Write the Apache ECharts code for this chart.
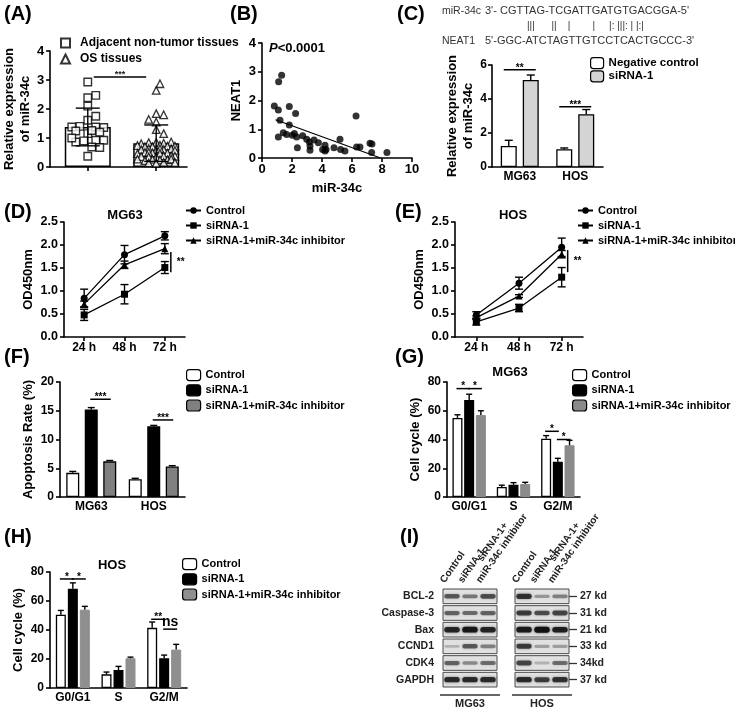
<!DOCTYPE html>
<html><head><meta charset="utf-8">
<script src="https://cdn.jsdelivr.net/npm/echarts@6/dist/echarts.min.js"></script>
<style>
html,body{margin:0;padding:0;background:#fff;}
#wrap{position:relative;width:735px;height:712px;background:#fff;overflow:hidden;}
.pane{position:absolute;left:0;top:0;width:735px;height:712px;}
</style></head><body><div id="wrap"></div>
<script>
// ================= DATA =================
// (A) relative expression of miR-34c
const adjacentVals = [2.93,2.39,2.47,2.1,1.61,1.75,1.38,1.4,1.36,1.38,1.15,1.24,1.26,1.2,0.92,0.9,0.86,0.92,1.0,0.69,0.67,0.37];
const osVals = [2.64,2.87,1.84,1.8,1.64,1.55,1.29,1.15,0.85,0.82,0.84,0.86,0.8,0.72,0.7,0.75,0.72,0.7,0.74,0.6,0.62,0.58,0.63,0.6,0.57,0.62,0.48,0.5,0.46,0.49,0.47,0.5,0.37,0.35,0.38,0.36,0.39,0.35,0.25,0.27,0.24,0.26,0.22,0.27,0.15,0.13,0.16,0.14];
const groupNames = ['Adjacent non-tumor tissues','OS tissues'];
const groupMeans = [1.38, 0.82];
const groupSD = [0.65, 0.63];
const sigA = [[0, 1, 3.1, '***']];
// (B) correlation NEAT1 vs miR-34c
const corrMiR = [0.82,1.09,1.11,1.31,1.2,1.09,1.82,1.82,2.24,1.42,1.64,2.02,2.16,2.31,2.36,2.71,2.98,3.16,3.2,3.2,3.47,3.76,4.04,4.2,4.27,4.2,4.8,5.2,5.24,5.53,6.27,6.31,6.53,7.2,7.33,7.31,8.33];
const corrNEAT1 = [1.81,1.67,2.65,2.88,1.31,0.73,1.79,1.15,1.55,0.88,0.82,0.79,0.85,0.73,0.36,0.77,0.65,0.56,0.42,0.27,0.63,0.53,0.3,0.44,0.3,0.24,0.36,0.65,0.3,0.24,1.46,0.38,0.38,0.51,0.49,0.19,0.19];
const fitLine = [[0.9,1.33],[7.9,0]];
// (C)
const seqMiR = "3'- CGTTAG-TCGATTGATGTGACGGA-5'";
const seqPairs = "|||      ||    |        |     |: |||: | |:|";
const seqNEAT1 = "5'-GGC-ATCTAGTTGTCCTCACTGCCC-3'";
const cellLines = ['MG63','HOS'];
const cNames = ['Negative control','siRNA-1'];
const cNegCtrl = [1.24,1.04], cNegCtrlErr = [0.33,0.08];
const cSiRNA = [5.12,3.11], cSiRNAErr = [0.29,0.27];
const sigC = [[0,0,0,1,5.72,'**'],[1,0,1,1,3.54,'***']];
// (D)/(E) OD450
const timePoints = ['24 h','48 h','72 h'];
const groups3 = ['Control','siRNA-1','siRNA-1+miR-34c inhibitor'];
const dControl = [0.84,1.79,2.2], dControlErr = [0.2,0.2,0.09];
const dSi = [0.48,0.93,1.51], dSiErr = [0.12,0.21,0.13];
const dInh = [0.72,1.57,1.92], dInhErr = [0.06,0.08,0.11];
const sigD = [[2,1.85,1.41,'**']];
const eControl = [0.48,1.17,1.95], eControlErr = [0.07,0.13,0.2];
const eSi = [0.33,0.63,1.3], eSiErr = [0.07,0.08,0.21];
const eInh = [0.42,0.89,1.8], eInhErr = [0.04,0.03,0.08];
const sigE = [[2,1.89,1.41,'**']];
// (F) apoptosis
const fControl = [4.2,3.1], fControlErr = [0.25,0.15];
const fSi = [15.2,12.3], fSiErr = [0.35,0.15];
const fInh = [6.2,5.3], fInhErr = [0.15,0.15];
const sigF = [[0,1,0,2,17,'***'],[1,1,1,2,13.4,'***']];
// (G)/(H) cell cycle
const phases = ['G0/G1','S','G2/M'];
const gControl = [55,7,40.5], gControlErr = [2.2,1.2,2.2];
const gSi = [67.5,8.5,24.5], gSiErr = [4,1.5,2.4];
const gInh = [57,9,36], gInhErr = [3,1.2,3.4];
const sigG = [[0,0,0,1,75.4,'*'],[0,1,0,2,75.4,'*'],[2,0,2,1,45.7,'*'],[2,1,2,2,40,'*']];
const hControl = [50.5,9.4,41.5], hControlErr = [3,1.6,4];
const hSi = [68.5,12.4,20.5], hSiErr = [4,2.5,2.2];
const hInh = [54,20.5,26.5], hInhErr = [2.3,0.8,3.6];
const sigH = [[0,0,0,1,75.2,'*'],[0,1,0,2,75.2,'*'],[2,0,2,1,47.4,'**'],[2,1,2,2,40.6,'ns']];
// (I) western blot
const blotProteins = ['BCL-2','Caspase-3','Bax','CCND1','CDK4','GAPDH'];
const blotKd = ['27 kd','31 kd','21 kd','33 kd','34kd','37 kd'];
const blotLanes = ['Control','siRNA-1','siRNA-1+\nmiR-34c inhibitor'];
const blotMG63 = [[0.55,0.4,0.6],[0.5,0.45,0.5],[0.85,0.95,0.85],[0.1,0.55,0.35],[0.5,0.3,0.45],[0.8,0.8,0.8]];
const blotHOS  = [[0.75,0.25,0.35],[0.7,0.6,0.65],[0.9,1.0,0.88],[0.7,0.2,0.2],[0.65,0.1,0.45],[0.8,0.7,0.75]];

// ================= HELPERS =================
const FONT = '"Liberation Sans", Arial, Helvetica, sans-serif';
const K = '#000';
function merge(a, b) {
  const o = Object.assign({}, a);
  for (const k in b) {
    const bv = b[k];
    if (bv && typeof bv === 'object' && !Array.isArray(bv) && a && a[k] && typeof a[k] === 'object' && !Array.isArray(a[k])) o[k] = merge(a[k], bv);
    else o[k] = bv;
  }
  return o;
}
const axisBase = {
  axisLine: {show: true, onZero: false, lineStyle: {color: K, width: 1.6}},
  axisTick: {show: true, length: 4, lineStyle: {color: K, width: 1.6}},
  axisLabel: {color: K, fontFamily: FONT, fontSize: 12, fontWeight: 'bold', margin: 6},
  splitLine: {show: false},
  nameTextStyle: {color: K, fontFamily: FONT, fontSize: 13, fontWeight: 'bold', lineHeight: 16}
};
function vAxis(o) { return merge(merge(axisBase, {type: 'value'}), o || {}); }
function cAxis(data, o) { return merge(merge(axisBase, {type: 'category', data: data, axisTick: {alignWithLabel: true}, axisLabel: {margin: 4, interval: 0}}), o || {}); }
function ptitle(text, left, top) { return {text, left, top, padding: 0, textStyle: {fontFamily: FONT, fontSize: 20, fontWeight: 'bold', color: K}}; }
function gtext(text, x, y, size, extra) {
  return {type: 'text', x, y, style: Object.assign({text, align: 'center', verticalAlign: 'middle', fontFamily: FONT, fontSize: size, fontWeight: 'bold', fill: K}, extra || {})};
}
function legendV(names, left, top, o) {
  return merge({orient: 'vertical', left, top, itemGap: 3, itemWidth: 14, itemHeight: 11, padding: 0, selectedMode: false,
    textStyle: {fontFamily: FONT, fontSize: 11, fontWeight: 'bold', color: K}, data: names}, o || {});
}
function errRows(list) { // list of [vals, errs]
  const rows = [];
  list.forEach((p, s) => p[0].forEach((v, i) => rows.push([i, v, p[1][i], s])));
  return rows;
}
function errSeries(rows, offsets, cap, both) {
  return {type: 'custom', z: 5, silent: true, data: rows, encode: {x: 0, y: 1},
    renderItem(params, api) {
      const c = api.value(0), m = api.value(1), e = api.value(2), s = api.value(3);
      const top = api.coord([c, m + e]);
      const bot = api.coord([c, both ? m - e : m]);
      const x = top[0] + offsets[s];
      const st = {stroke: K, lineWidth: 1.4};
      const ch = [
        {type: 'line', shape: {x1: x, y1: bot[1], x2: x, y2: top[1]}, style: st},
        {type: 'line', shape: {x1: x - cap / 2, y1: top[1], x2: x + cap / 2, y2: top[1]}, style: st}];
      if (both) ch.push({type: 'line', shape: {x1: x - cap / 2, y1: bot[1], x2: x + cap / 2, y2: bot[1]}, style: st});
      return {type: 'group', children: ch};
    }};
}
function sigSeries(specs, offsets, ext) {
  return {type: 'custom', z: 6, silent: true, data: specs.map(s => [s[0], s[4]]), encode: {x: 0, y: 1},
    renderItem(params, api) {
      const s = specs[params.dataIndex];
      const a = api.coord([s[0], s[4]]), b = api.coord([s[2], s[4]]);
      const x1 = a[0] + offsets[s[1]] - ext, x2 = b[0] + offsets[s[3]] + ext;
      const ns = s[5] === 'ns';
      return {type: 'group', children: [
        {type: 'line', shape: {x1, y1: a[1], x2, y2: a[1]}, style: {stroke: K, lineWidth: 1.5}},
        {type: 'text', x: (x1 + x2) / 2, y: a[1] + (ns ? 0 : 3), style: {text: s[5], align: 'center', verticalAlign: 'bottom',
          fontFamily: FONT, fontSize: ns ? 14 : 10, fontWeight: 'bold', fill: K}}]};
    }};
}
function vSigSeries(specs, dx) {
  return {type: 'custom', z: 6, silent: true, data: specs.map(s => [s[0], s[1], s[2]]), encode: {x: 0, y: 1},
    renderItem(params, api) {
      const s = specs[params.dataIndex];
      const a = api.coord([s[0], s[1]]), b = api.coord([s[0], s[2]]);
      const x = a[0] + dx;
      return {type: 'group', children: [
        {type: 'line', shape: {x1: x, y1: a[1], x2: x, y2: b[1]}, style: {stroke: K, lineWidth: 1.5}},
        {type: 'text', x: x + 6, y: (a[1] + b[1]) / 2, style: {text: s[3], align: 'left', verticalAlign: 'middle',
          fontFamily: FONT, fontSize: 10, fontWeight: 'bold', fill: K}}]};
    }};
}
function beeswarm(vals, center, pxX, pxY, D, maxHalf) {
  const cands = [0];
  for (let k = 1; k * D / 2 <= maxHalf; k++) cands.push(k * D / 2, -k * D / 2);
  const placed = [], out = [];
  vals.forEach(v => {
    const y = v * pxY; let best = 0, bestD = -1;
    for (const c of cands) {
      let md = Infinity;
      for (const p of placed) md = Math.min(md, Math.hypot(p[0] - c, p[1] - y));
      if (md >= D) { best = c; break; }
      if (md > bestD) { bestD = md; best = c; }
    }
    placed.push([best, y]);
    out.push([center + best / pxX, v]);
  });
  return out;
}
const measureCtx = document.createElement('canvas').getContext('2d');
function textWidth(str, font) {
  measureCtx.font = font;
  return Math.max.apply(null, str.split('\n').map(s => measureCtx.measureText(s).width));
}
const wrap = document.getElementById('wrap');
function mk() {
  const d = document.createElement('div'); d.className = 'pane'; wrap.appendChild(d);
  return echarts.init(d, null, {renderer: 'canvas', width: 735, height: 712});
}

// ================= (A) =================
(function () {
  const grid = {left: 50, top: 51, width: 137, height: 116};
  const xmin = 0.45, xmax = 2.45;
  const pxX = grid.width / (xmax - xmin), pxY = grid.height / 4;
  const centers = [1, 2];
  mk().setOption({
    animation: false,
    title: [ptitle('(A)', 4, 4)],
    legend: legendV(groupNames, 60, 37, {itemWidth: 9, itemHeight: 9, itemGap: 4, textStyle: {fontSize: 12, padding: [0, 0, 0, 5]}}),
    grid,
    xAxis: vAxis({min: xmin, max: xmax, axisLabel: {show: false}, axisTick: {customValues: centers}}),
    yAxis: vAxis({min: 0, max: 4, interval: 1, name: 'Relative expression\nof miR-34c', nameLocation: 'middle', nameGap: 14,
      axisLabel: {fontSize: 13, margin: 6}}),
    series: [
      {type: 'bar', name: 'mean', barWidth: 46, z: 1, data: centers.map((c, i) => [c, groupMeans[i]]),
        itemStyle: {color: '#fff', borderColor: K, borderWidth: 1.5}},
      {type: 'scatter', name: groupNames[0], symbol: 'rect', symbolSize: 7.5, z: 2,
        data: beeswarm(adjacentVals, centers[0], pxX, pxY, 8, 18),
        itemStyle: {color: '#fff', borderColor: K, borderWidth: 1.4}},
      {type: 'scatter', name: groupNames[1], symbol: 'triangle', symbolSize: 7.5, z: 2,
        data: beeswarm(osVals, centers[1], pxX, pxY, 7.5, 19),
        itemStyle: {color: '#fff', borderColor: K, borderWidth: 1.3}},
      errSeries(centers.map((c, i) => [c, groupMeans[i], groupSD[i], 0]), [0], 24, true),
      {type: 'custom', z: 6, silent: true, data: sigA.map(s => [centers[s[0]], s[2]]), encode: {x: 0, y: 1},
        renderItem(params, api) {
          const s = sigA[params.dataIndex];
          const a = api.coord([centers[s[0]], s[2]]), b = api.coord([centers[s[1]], s[2]]);
          const x1 = a[0] + 6, x2 = b[0] - 10;
          return {type: 'group', children: [
            {type: 'line', shape: {x1, y1: a[1], x2, y2: a[1]}, style: {stroke: K, lineWidth: 1.5}},
            {type: 'text', x: (x1 + x2) / 2, y: a[1] + 2, style: {text: s[3], align: 'center', verticalAlign: 'bottom', fontFamily: FONT, fontSize: 9, fontWeight: 'bold', fill: '#222'}}]};
        }}
    ]
  });
})();

// ================= (B) =================
mk().setOption({
  animation: false,
  title: [ptitle('(B)', 230, 4)],
  grid: {left: 262, top: 43, width: 150, height: 115},
  xAxis: vAxis({min: 0, max: 10, interval: 2, name: 'miR-34c', nameLocation: 'middle', nameGap: 22, axisLabel: {fontSize: 13, margin: 5}}),
  yAxis: vAxis({min: 0, max: 4, interval: 1, name: 'NEAT1', nameLocation: 'middle', nameGap: 18, axisLabel: {fontSize: 13, margin: 6}}),
  graphic: [{type: 'text', x: 269, y: 48, style: {text: '{i|P}<0.0001', align: 'left', verticalAlign: 'middle',
    fontFamily: FONT, fontSize: 13, fontWeight: 'bold', fill: K,
    rich: {i: {fontStyle: 'italic', fontWeight: 'bold', fontFamily: FONT, fontSize: 13, fill: K}}}}],
  series: [
    {type: 'scatter', symbol: 'circle', symbolSize: 7, data: corrMiR.map((x, i) => [x, corrNEAT1[i]]), itemStyle: {color: K}},
    {type: 'line', data: fitLine, symbol: 'none', lineStyle: {color: K, width: 1.3}}
  ]
});

// ================= (C) =================
(function () {
  const off = [-11, 11];
  mk().setOption({
    animation: false,
    title: [ptitle('(C)', 397, 4)],
    graphic: [
      {type: 'text', x: 442, y: 11, style: {text: 'miR-34c', align: 'left', verticalAlign: 'middle', fontFamily: FONT, fontSize: 10.5, fill: '#333'}},
      {type: 'text', x: 485, y: 11, style: {text: seqMiR, align: 'left', verticalAlign: 'middle', fontFamily: FONT, fontSize: 11, fill: '#333'}},
      {type: 'text', x: 527, y: 26, style: {text: seqPairs, align: 'left', verticalAlign: 'middle', fontFamily: FONT, fontSize: 10, fill: '#333'}},
      {type: 'text', x: 442, y: 41, style: {text: 'NEAT1', align: 'left', verticalAlign: 'middle', fontFamily: FONT, fontSize: 10.5, fill: '#333'}},
      {type: 'text', x: 485, y: 41, style: {text: seqNEAT1, align: 'left', verticalAlign: 'middle', fontFamily: FONT, fontSize: 11, fill: '#333'}}
    ],
    legend: legendV(cNames, 590, 57, {itemGap: 1, itemWidth: 13, itemHeight: 11, itemStyle: {borderColor: K, borderWidth: 1.2}, textStyle: {fontSize: 11.5}}),
    grid: {left: 492, top: 65, width: 111, height: 102},
    xAxis: cAxis(cellLines, {axisTick: {show: false}}),
    yAxis: vAxis({min: 0, max: 6, interval: 2, name: 'Relative expression\nof miR-34c', nameLocation: 'middle', nameGap: 14, axisLabel: {margin: 5}}),
    series: [
      {type: 'bar', name: cNames[0], data: cNegCtrl, barWidth: 16, barGap: '37.5%', itemStyle: {color: '#fff', borderColor: K, borderWidth: 1.3}},
      {type: 'bar', name: cNames[1], data: cSiRNA, barWidth: 16, barGap: '37.5%', itemStyle: {color: '#d4d4d4', borderColor: K, borderWidth: 1.3}},
      errSeries(errRows([[cNegCtrl, cNegCtrlErr], [cSiRNA, cSiRNAErr]]), off, 8, false),
      sigSeries(sigC, off, 5)
    ]
  });
})();

// ================= (D)/(E) =================
function odChart(tag, titleX, sub, subX, grid, legLeft, ctrl, ctrlE, si, siE, inh, inhE, sig, nameGap) {
  mk().setOption({
    animation: false,
    title: [ptitle(tag, titleX, 202)],
    graphic: [gtext(sub, subX, 215, 13)],
    legend: legendV(groups3, legLeft, 205, {itemWidth: 15, itemHeight: 8, itemGap: 4}),
    grid,
    xAxis: cAxis(timePoints, {axisLabel: {margin: 5}}),
    yAxis: vAxis({min: 0, max: 2.5, interval: 0.5, name: 'OD450nm', nameLocation: 'middle', nameGap,
      axisLabel: {formatter: v => v.toFixed(1), fontSize: 12.5}}),
    series: [
      {type: 'line', name: groups3[0], data: ctrl, symbol: 'circle', symbolSize: 7, z: 3, itemStyle: {color: K}, lineStyle: {color: K, width: 1.3}},
      {type: 'line', name: groups3[1], data: si, symbol: 'rect', symbolSize: 7, z: 3, itemStyle: {color: K}, lineStyle: {color: K, width: 1.3}},
      {type: 'line', name: groups3[2], data: inh, symbol: 'triangle', symbolSize: 7, z: 3, itemStyle: {color: K}, lineStyle: {color: K, width: 1.3}},
      errSeries(errRows([[ctrl, ctrlE], [si, siE], [inh, inhE]]), [0, 0, 0], 8, true),
      vSigSeries(sig, 6)
    ]
  });
}
odChart('(D)', 4, 'MG63', 125, {left: 64, top: 222, width: 121, height: 115}, 185, dControl, dControlErr, dSi, dSiErr, dInh, dInhErr, sigD, 23);
odChart('(E)', 395, 'HOS', 513, {left: 455, top: 222, width: 128, height: 115}, 577, eControl, eControlErr, eSi, eSiErr, eInh, eInhErr, sigE, 25);

// ================= (F) =================
(function () {
  const off = [-18.5, 0, 18.5];
  const bw = 13, gap = ((18.5 - 13) / 13 * 100).toFixed(1) + '%';
  mk().setOption({
    animation: false,
    title: [ptitle('(F)', 4, 347)],
    legend: legendV(groups3, 186, 369, {itemWidth: 14, itemHeight: 11, itemGap: 3, itemStyle: {borderColor: K, borderWidth: 1.2}}),
    grid: {left: 60, top: 382, width: 125, height: 115},
    xAxis: cAxis(cellLines, {axisTick: {show: false}}),
    yAxis: vAxis({min: 0, max: 20, interval: 5, name: 'Apoptosis Rate (%)', nameLocation: 'middle', nameGap: 23}),
    series: [
      {type: 'bar', name: groups3[0], data: fControl, barWidth: bw, barGap: gap, itemStyle: {color: '#fff', borderColor: K, borderWidth: 1.3}},
      {type: 'bar', name: groups3[1], data: fSi, barWidth: bw, barGap: gap, itemStyle: {color: '#000', borderColor: K, borderWidth: 1.3}},
      {type: 'bar', name: groups3[2], data: fInh, barWidth: bw, barGap: gap, itemStyle: {color: '#808080', borderColor: K, borderWidth: 1.3}},
      errSeries(errRows([[fControl, fControlErr], [fSi, fSiErr], [fInh, fInhErr]]), off, 7, false),
      sigSeries(sigF, off, 1)
    ]
  });
})();

// ================= (G)/(H) =================
function cycleChart(tag, tx, ty, sub, sx, sy, grid, legLeft, legTop, step, ctrl, ctrlE, si, siE, inh, inhE, sig, nameGap, grey) {
  const off = [-step, 0, step];
  const bw = 10, gap = ((step - bw) / bw * 100).toFixed(1) + '%';
  mk().setOption({
    animation: false,
    title: [ptitle(tag, tx, ty)],
    graphic: [gtext(sub, sx, sy, 13)],
    legend: legendV(groups3, legLeft, legTop, {itemWidth: 14, itemHeight: 11, itemGap: 3, itemStyle: {borderColor: K, borderWidth: 1.2}}),
    grid,
    xAxis: cAxis(phases, {axisTick: {show: false}, axisLabel: {margin: 4}}),
    yAxis: vAxis({min: 0, max: 80, interval: 20, name: 'Cell cycle (%)', nameLocation: 'middle', nameGap}),
    series: [
      {type: 'bar', name: groups3[0], data: ctrl, barWidth: bw, barGap: gap, itemStyle: {color: '#fff', borderColor: K, borderWidth: 1.3}},
      {type: 'bar', name: groups3[1], data: si, barWidth: bw, barGap: gap, itemStyle: {color: '#000', borderColor: K, borderWidth: 1.3}},
      {type: 'bar', name: groups3[2], data: inh, barWidth: bw, barGap: gap, itemStyle: {color: grey, borderColor: grey, borderWidth: 1}},
      errSeries(errRows([[ctrl, ctrlE], [si, siE], [inh, inhE]]), off, 6, false),
      sigSeries(sig, off, 1)
    ]
  });
}
cycleChart('(G)', 395, 347, 'MG63', 510, 372, {left: 447, top: 382, width: 133, height: 115}, 572, 369, 11.7,
  gControl, gControlErr, gSi, gSiErr, gInh, gInhErr, sigG, 22, '#8a8a8a');
cycleChart('(H)', 4, 527, 'HOS', 112, 565, {left: 50, top: 572, width: 137, height: 116}, 182, 558, 12,
  hControl, hControlErr, hSi, hSiErr, hInh, hInhErr, sigH, 19, '#8f8f8f');

// ================= (I) western blot =================
(function () {
  const lanes = [];
  const laneLabels = [];
  cellLines.forEach((cl, ci) => {
    if (ci > 0) { lanes.push('gap' + ci); laneLabels.push(''); }
    blotLanes.forEach((ln, j) => { lanes.push(cl + '|' + j); laneLabels.push(ln); });
  });
  const laneIndex = (ci, j) => ci * (blotLanes.length + 1) + j;
  const blots = [blotMG63, blotHOS];
  const bands = [], boxes = [], labels = [];
  blots.forEach((b, ci) => b.forEach((row, r) => {
    boxes.push([laneIndex(ci, 0), r, laneIndex(ci, blotLanes.length - 1)]);
    row.forEach((v, j) => bands.push([laneIndex(ci, j), r, v]));
  }));
  laneLabels.forEach((t, i) => { if (t) labels.push([i, 0]); });
  const brackets = cellLines.map((cl, ci) => [laneIndex(ci, 0), blotProteins.length - 1, laneIndex(ci, blotLanes.length - 1)]);
  const yLab = {fontFamily: FONT, fontSize: 10.5, fontWeight: 'bold', color: '#222'};
  const labFont = 'bold 10px ' + FONT;
  const ang = 55 * Math.PI / 180;
  mk().setOption({
    animation: false,
    title: [ptitle('(I)', 400, 527)],
    grid: {left: 443, top: 588, width: 126, height: 100},
    xAxis: {type: 'category', data: lanes, position: 'top', axisLine: {show: false}, axisTick: {show: false}, splitLine: {show: false},
      axisLabel: {show: false}},
    yAxis: [
      {type: 'category', inverse: true, data: blotProteins, axisLine: {show: false}, axisTick: {show: false}, splitLine: {show: false},
        axisLabel: Object.assign({margin: 9}, yLab)},
      {type: 'category', inverse: true, position: 'right', data: blotKd, axisLine: {show: false}, splitLine: {show: false},
        axisTick: {show: true, alignWithLabel: true, length: 8, lineStyle: {color: '#333', width: 1.3}},
        axisLabel: Object.assign({margin: 11}, yLab)}
    ],
    series: [
      {type: 'custom', z: 1, silent: true, data: boxes, encode: {x: 0, y: 1},
        renderItem(params, api) {
          const a = api.coord([api.value(0), api.value(1)]), b = api.coord([api.value(2), api.value(1)]);
          const sz = api.size([1, 1]);
          return {type: 'rect', shape: {x: a[0] - sz[0] / 2, y: a[1] - sz[1] / 2 + 1, width: b[0] - a[0] + sz[0], height: sz[1] - 2},
            style: {fill: '#e1e1e1', stroke: '#4a4a4a', lineWidth: 1}};
        }},
      {type: 'custom', z: 2, silent: true, data: bands, encode: {x: 0, y: 1},
        renderItem(params, api) {
          const c = api.coord([api.value(0), api.value(1)]);
          const v = api.value(2);
          const sz = api.size([1, 1]);
          const w = sz[0] * 0.86, h = 2.5 + 3.5 * v;
          return {type: 'rect', shape: {x: c[0] - w / 2, y: c[1] - h / 2, width: w, height: h, r: h / 2},
            style: {fill: 'rgba(15,15,15,' + (0.12 + 0.85 * v).toFixed(2) + ')', shadowBlur: 3, shadowColor: 'rgba(0,0,0,' + (0.7 * v).toFixed(2) + ')'}};
        }},
      {type: 'custom', z: 3, silent: true, data: labels, encode: {x: 0, y: 1},
        renderItem(params, api) {
          const li = api.value(0);
          const c = api.coord([li, 0]);
          const sz = api.size([1, 1]);
          const txt = laneLabels[li];
          const w = textWidth(txt, labFont);
          const sx = c[0] - 5, sy = c[1] - sz[1] / 2 - 3;
          return {type: 'text', x: sx + Math.cos(ang) * w / 2, y: sy - Math.sin(ang) * w / 2, rotation: ang,
            style: {text: txt, align: 'center', verticalAlign: 'bottom', fontFamily: FONT, fontSize: 10, fontWeight: 'bold', fill: '#222', lineHeight: 11}};
        }},
      {type: 'custom', z: 3, silent: true, data: brackets, encode: {x: 0, y: 1},
        renderItem(params, api) {
          const a = api.coord([api.value(0), api.value(1)]), b = api.coord([api.value(2), api.value(1)]);
          const sz = api.size([1, 1]);
          const y = a[1] + sz[1] / 2 + 7;
          const x1 = a[0] - sz[0] / 2 - 3, x2 = b[0] + sz[0] / 2 + 3;
          return {type: 'group', children: [
            {type: 'line', shape: {x1, y1: y, x2, y2: y}, style: {stroke: '#666', lineWidth: 2}},
            {type: 'text', x: (x1 + x2) / 2, y: y + 3, style: {text: cellLines[params.dataIndex], align: 'center', verticalAlign: 'top',
              fontFamily: FONT, fontSize: 11, fontWeight: 'bold', fill: '#222'}}]};
        }}
    ]
  });
})();
</script>
</body></html>
